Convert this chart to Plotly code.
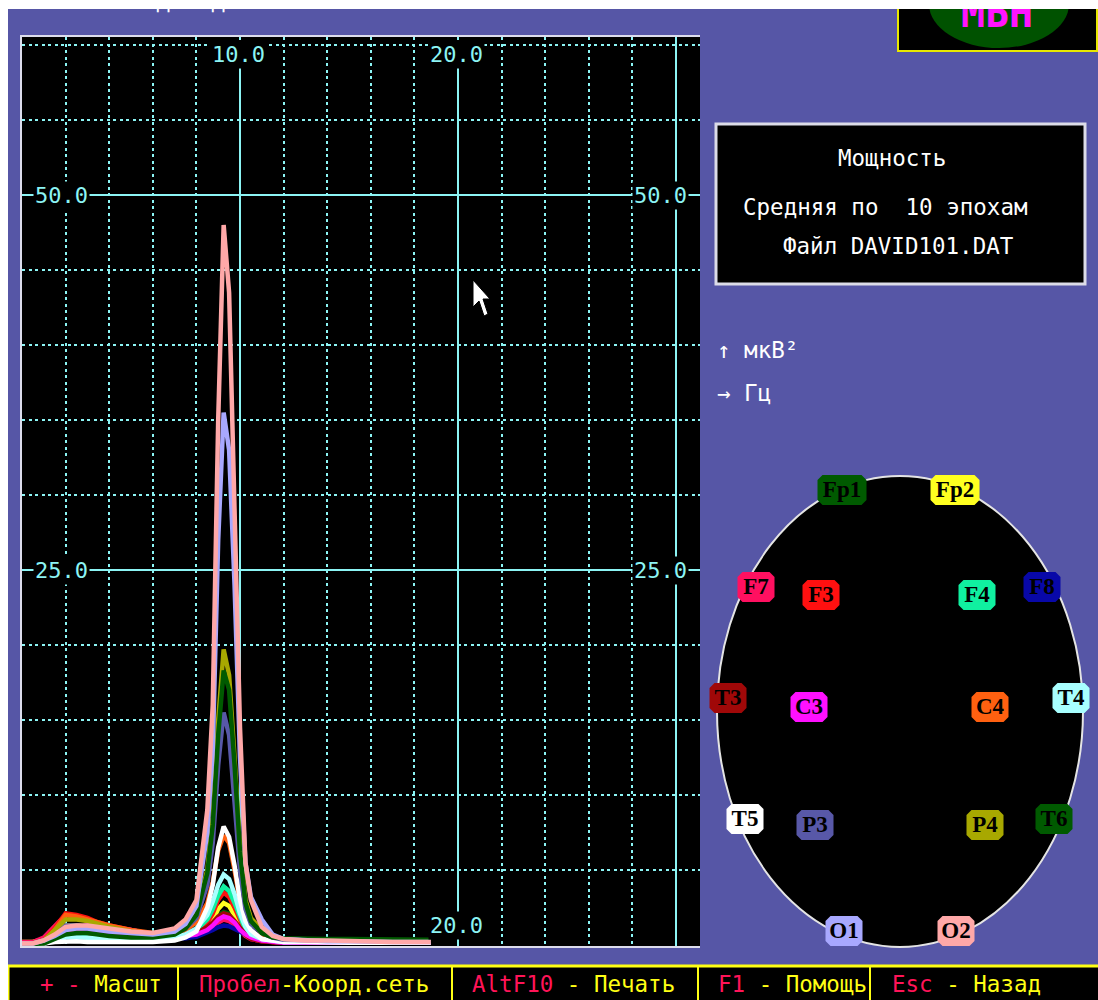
import plotly.graph_objects as go

# ---------------------------------------------------------------
# Mean power spectra (µV²) per EEG lead, averaged over 10 epochs
# ---------------------------------------------------------------
freq_hz = [0, 0.5, 1, 1.5, 2, 2.5, 3, 3.5, 4,
           5, 6, 7, 7.5,
           8, 8.5, 8.75, 9, 9.25, 9.5, 9.75, 10, 10.25, 10.5,
           11, 11.5, 12, 13, 14, 15, 16, 17, 18, 18.75]

power_fp1 = [0.1, 0.1, 0.3, 0.6, 0.9, 0.9, 0.8, 0.7, 0.65,
             0.6, 0.55, 0.6, 0.7,
             0.9, 1.3, 1.7, 2.0, 2.2, 2.1, 1.8, 1.3, 0.9, 0.6,
             0.4, 0.3, 0.25, 0.2, 0.2, 0.2, 0.2, 0.2, 0.2, 0.2]
power_fp2 = [0.2, 0.2, 0.4, 0.8, 1.3, 1.3, 1.2, 1.1, 1.0,
             0.8, 0.6, 0.6, 0.6,
             0.8, 1.2, 1.7, 2.4, 2.8, 2.6, 2.0, 1.3, 0.8, 0.5,
             0.3, 0.2, 0.15, 0.15, 0.15, 0.15, 0.15, 0.15, 0.15, 0.15]
power_f7 = [0.2, 0.2, 0.5, 1.3, 2.0, 1.9, 1.6, 1.4, 1.2,
            0.9, 0.6, 0.5, 0.5,
            0.6, 0.9, 1.2, 1.5, 1.7, 1.6, 1.3, 0.9, 0.6, 0.4,
            0.25, 0.2, 0.15, 0.15, 0.15, 0.15, 0.15, 0.15, 0.15, 0.15]
power_f3 = [0.1, 0.1, 0.3, 1.1, 2.1, 2.0, 1.8, 1.5, 1.3,
            1.0, 0.7, 0.6, 0.7,
            0.9, 1.5, 2.1, 3.0, 3.5, 3.2, 2.5, 1.6, 0.9, 0.5,
            0.3, 0.2, 0.2, 0.15, 0.15, 0.15, 0.15, 0.15, 0.15, 0.15]
power_f4 = [0.1, 0.1, 0.2, 0.5, 0.8, 0.8, 0.7, 0.6, 0.55,
            0.5, 0.45, 0.5, 0.7,
            1.0, 1.7, 2.4, 3.3, 3.9, 3.6, 2.8, 1.8, 1.0, 0.6,
            0.35, 0.25, 0.2, 0.2, 0.2, 0.2, 0.2, 0.2, 0.2, 0.2]
power_f8 = [0.1, 0.1, 0.3, 0.8, 1.1, 1.1, 1.0, 0.9, 0.8,
            0.6, 0.5, 0.45, 0.45,
            0.55, 0.8, 1.0, 1.2, 1.3, 1.25, 1.1, 0.9, 0.7, 0.5,
            0.3, 0.2, 0.15, 0.15, 0.15, 0.15, 0.15, 0.15, 0.15, 0.15]
power_t3 = [0.1, 0.1, 0.2, 0.5, 0.9, 0.9, 0.8, 0.7, 0.6,
            0.5, 0.45, 0.5, 0.6,
            0.8, 1.2, 1.5, 1.9, 2.1, 2.0, 1.6, 1.1, 0.7, 0.4,
            0.25, 0.2, 0.15, 0.15, 0.15, 0.15, 0.15, 0.15, 0.15, 0.15]
power_c3 = [0.1, 0.1, 0.2, 0.6, 1.1, 1.2, 1.3, 1.3, 1.2,
            1.0, 0.7, 0.6, 0.6,
            0.7, 1.0, 1.3, 1.7, 1.9, 1.8, 1.5, 1.0, 0.7, 0.5,
            0.3, 0.2, 0.15, 0.15, 0.15, 0.15, 0.15, 0.15, 0.15, 0.15]
power_c4 = [0.1, 0.1, 0.3, 1.0, 2.0, 1.9, 1.7, 1.5, 1.3,
            1.0, 0.8, 0.8, 1.0,
            1.5, 2.8, 4.2, 6.3, 7.3, 6.8, 5.0, 2.9, 1.5, 0.9,
            0.5, 0.35, 0.3, 0.25, 0.25, 0.2, 0.2, 0.2, 0.2, 0.2]
power_t4 = [0.05, 0.05, 0.1, 0.3, 0.5, 0.5, 0.5, 0.5, 0.45,
            0.4, 0.4, 0.5, 0.7,
            1.1, 2.0, 2.9, 4.0, 4.7, 4.4, 3.4, 2.1, 1.2, 0.7,
            0.4, 0.3, 0.2, 0.2, 0.2, 0.2, 0.2, 0.2, 0.2, 0.2]
power_t5 = [0.05, 0.05, 0.1, 0.2, 0.25, 0.25, 0.2, 0.2, 0.2,
            0.2, 0.2, 0.3, 0.5,
            0.9, 2.5, 4.0, 6.5, 7.9, 7.2, 5.3, 3.0, 1.6, 1.0,
            0.4, 0.3, 0.2, 0.2, 0.15, 0.15, 0.15, 0.15, 0.15, 0.15]
power_p3 = [0.1, 0.1, 0.2, 0.7, 1.3, 1.3, 1.2, 1.1, 1.0,
            0.8, 0.6, 0.8, 1.1,
            1.8, 4.0, 6.8, 12.0, 15.5, 14.0, 9.5, 5.0, 2.4, 1.4,
            0.8, 0.5, 0.35, 0.3, 0.3, 0.3, 0.3, 0.3, 0.3, 0.3]
power_p4 = [0.1, 0.1, 0.3, 1.0, 1.7, 1.7, 1.6, 1.4, 1.2,
            0.9, 0.7, 0.9, 1.3,
            2.2, 5.0, 8.5, 15.0, 19.7, 18.0, 12.5, 6.5, 3.0, 1.8,
            1.0, 0.6, 0.4, 0.35, 0.3, 0.3, 0.3, 0.3, 0.3, 0.3]
power_t6 = [0.05, 0.05, 0.1, 0.4, 0.7, 0.8, 0.8, 0.7, 0.6,
            0.5, 0.5, 0.7, 1.1,
            2.0, 4.8, 8.0, 14.0, 18.3, 17.0, 12.0, 6.2, 2.8, 1.6,
            0.8, 0.5, 0.45, 0.4, 0.4, 0.4, 0.4, 0.35, 0.35, 0.35]
power_o1 = [0.1, 0.1, 0.3, 0.6, 1.0, 1.1, 1.1, 1.0, 0.9,
            0.8, 0.7, 0.9, 1.4,
            2.6, 7.5, 13.0, 27.0, 35.5, 33.0, 24.0, 12.5, 5.5, 3.2,
            1.7, 0.7, 0.4, 0.3, 0.25, 0.25, 0.2, 0.2, 0.2, 0.2]
power_o2 = [0.1, 0.1, 0.3, 0.7, 1.2, 1.3, 1.3, 1.2, 1.1,
            0.9, 0.8, 1.1, 1.7,
            3.0, 9.0, 16.0, 35.0, 48.0, 43.5, 30.0, 14.5, 5.5, 3.0,
            1.2, 0.6, 0.4, 0.3, 0.3, 0.25, 0.25, 0.2, 0.2, 0.2]

lead_names = ["Fp1", "Fp2", "F7", "F3", "F4", "F8", "T3", "C3",
              "C4", "T4", "T5", "P3", "P4", "T6", "O1", "O2"]
lead_power = [power_fp1, power_fp2, power_f7, power_f3, power_f4, power_f8,
              power_t3, power_c3, power_c4, power_t4, power_t5, power_p3,
              power_p4, power_t6, power_o1, power_o2]

# x tick labels (Hz) and y tick labels (µV²) written on the grid
x_label_values = [10.0, 20.0]
y_label_values = [50.0, 25.0]

# ---------------------------------------------------------------
# Styling / layout
# ---------------------------------------------------------------
W, H = 1098, 1000
PURPLE = "#5656A6"
CYAN = "#8CF4F4"
YELLOW = "#FFFF14"
RED = "#FF1458"
MONO = "DejaVu Sans Mono"

lead_colors = {
    "Fp1": "#005A00", "Fp2": "#FFFF20", "F7": "#FF1060", "F3": "#FF1010",
    "F4": "#10F0A0", "F8": "#0808A8", "T3": "#A00808", "C3": "#FF10FF",
    "C4": "#FF6010", "T4": "#A8FFFF", "T5": "#FFFFFF", "P3": "#5858A8",
    "P4": "#A8A800", "T6": "#005A00", "O1": "#A8A8FF", "O2": "#FFA8A8",
}

# head-map montage, screen pixel positions
montage_xy = {
    "Fp1": (842, 490), "Fp2": (955, 490),
    "F7": (756, 587), "F3": (821, 595), "F4": (977, 595), "F8": (1042, 587),
    "T3": (728, 698), "C3": (809, 707), "C4": (990, 707), "T4": (1071, 698),
    "T5": (745, 819), "P3": (815, 825), "P4": (985, 825), "T6": (1054, 819),
    "O1": (844, 931), "O2": (956, 931),
}

# spectrum panel geometry (pixels)
PX_LEFT, PX_RIGHT, PX_TOP, PX_BOTTOM = 22, 700, 37, 946
PX_PER_HZ, PX_PER_UNIT, PX_ZERO = 21.8, 15.0, 945
x_max = (PX_RIGHT - PX_LEFT) / PX_PER_HZ
y_min = (PX_ZERO - PX_BOTTOM) / PX_PER_UNIT
y_max = (PX_ZERO - PX_TOP) / PX_PER_UNIT

fig = go.Figure()

for name, pw in zip(lead_names, lead_power):
    fig.add_trace(go.Scatter(
        x=freq_hz, y=pw, mode="lines", name=name,
        line=dict(color=lead_colors[name], width=4.5),
        hoverinfo="skip", xaxis="x", yaxis="y"))

# electrode names on the head map (pixel-space overlay axes)
fig.add_trace(go.Scatter(
    x=[montage_xy[n][0] for n in lead_names],
    y=[montage_xy[n][1] + 1 for n in lead_names],
    mode="text", text=lead_names, textposition="middle center",
    textfont=dict(family="Liberation Serif", size=23, color="#000000",
                  weight="bold"),
    hoverinfo="skip", xaxis="x2", yaxis="y2"))

# logo lettering and the clipped title glyphs (partly hidden by the top strip)
fig.add_trace(go.Scatter(
    x=[997], y=[17], mode="text", text=["МБН"],
    textposition="middle center",
    textfont=dict(family=MONO, size=40, color="#FF14FF", weight="bold"),
    hoverinfo="skip", xaxis="x2", yaxis="y2"))
fig.add_trace(go.Scatter(
    x=[163, 218], y=[3, 3], mode="text", text=["Д", "Д"],
    textposition="middle center",
    textfont=dict(family=MONO, size=22, color="#FFFFFF"),
    hoverinfo="skip", xaxis="x2", yaxis="y2"))

shapes = []

# black spectrum field
shapes.append(dict(type="rect", xref="x domain", yref="y domain",
                   x0=0, x1=1, y0=0, y1=1, fillcolor="#000000",
                   line=dict(width=0), layer="below"))
# solid reference lines
for xv in (10, 20):
    shapes.append(dict(type="line", xref="x", yref="y", x0=xv, x1=xv,
                       y0=y_min, y1=58.5, line=dict(color=CYAN, width=2),
                       layer="below"))
shapes.append(dict(type="line", xref="x", yref="y", x0=30, x1=30,
                   y0=y_min, y1=y_max, line=dict(color=CYAN, width=2),
                   layer="below"))
for yv in (25, 50):
    shapes.append(dict(type="line", xref="x", yref="y", x0=0, x1=x_max,
                       y0=yv, y1=yv, line=dict(color=CYAN, width=2),
                       layer="below"))

# info box
shapes.append(dict(type="rect", xref="x2", yref="y2", x0=716, x1=1085,
                   y0=124, y1=284, fillcolor="#000000",
                   line=dict(color="#DCDCE8", width=3), layer="below"))
# logo box
shapes.append(dict(type="rect", xref="x2", yref="y2", x0=898, x1=1097,
                   y0=-5, y1=51, fillcolor="#000000",
                   line=dict(color="#E8E800", width=2), layer="below"))
shapes.append(dict(type="circle", xref="x2", yref="y2", x0=929, x1=1069,
                   y0=-40, y1=48, fillcolor="#005200",
                   line=dict(width=0), layer="below"))
# head outline
shapes.append(dict(type="circle", xref="x2", yref="y2", x0=717, x1=1083,
                   y0=476, y1=947, fillcolor="#000000",
                   line=dict(color="#E4E4E4", width=2), layer="below"))


def chamfer_box(cx, cy, hw, hh=15, c=5):
    pts = [(cx - hw + c, cy - hh), (cx + hw - c, cy - hh), (cx + hw, cy - hh + c),
           (cx + hw, cy + hh - c), (cx + hw - c, cy + hh), (cx - hw + c, cy + hh),
           (cx - hw, cy + hh - c), (cx - hw, cy - hh + c)]
    return "M" + " L".join(f"{x},{y}" for x, y in pts) + " Z"


for n in lead_names:
    cx, cy = montage_xy[n]
    hw = 24.5 if len(n) == 3 else 18.5
    shapes.append(dict(type="path", xref="x2", yref="y2",
                       path=chamfer_box(cx, cy, hw),
                       fillcolor=lead_colors[n], line=dict(width=0),
                       layer="below"))

# function-key bar
shapes.append(dict(type="rect", xref="x2", yref="y2", x0=8, x1=1102,
                   y0=966, y1=1004, fillcolor="#000000",
                   line=dict(color=YELLOW, width=3), layer="below"))
for sx in (178, 452, 698, 870):
    shapes.append(dict(type="line", xref="x2", yref="y2", x0=sx, x1=sx,
                       y0=966, y1=1000, line=dict(color=YELLOW, width=2),
                       layer="below"))

# mouse pointer
shapes.append(dict(type="path", xref="x2", yref="y2",
                   path="M473,280 L473,307 L479,301 L484,316 L488,314 "
                        "L483,299 L490,299 Z",
                   fillcolor="#FFFFFF", line=dict(color="#000000", width=1),
                   layer="above"))
# white screen margins
shapes.append(dict(type="rect", xref="x2", yref="y2", x0=-2, x1=1100,
                   y0=-2, y1=9, fillcolor="#FFFFFF", line=dict(width=0),
                   layer="above"))
shapes.append(dict(type="rect", xref="x2", yref="y2", x0=-2, x1=8,
                   y0=-2, y1=1002, fillcolor="#FFFFFF", line=dict(width=0),
                   layer="above"))

annotations = []


def grid_label(text, x, y):
    annotations.append(dict(
        text=text, x=x, y=y, xref="x", yref="y", showarrow=False,
        xanchor="center", yanchor="middle", bgcolor="#000000", borderpad=1,
        font=dict(family=MONO, size=22, color=CYAN)))


for xv in x_label_values:
    grid_label(f"{xv:.1f}", xv - 0.07, 59.4)
for yv in y_label_values:
    grid_label(f"{yv:.1f}", 1.79, yv)
    grid_label(f"{yv:.1f}", 29.27, yv)
grid_label(f"{x_label_values[1]:.1f}", 19.95, 1.33)


def screen_text(text, x, y, color="#FFFFFF", xanchor="left", size=22.5):
    annotations.append(dict(
        text=text, x=x, y=y, xref="x2", yref="y2", showarrow=False,
        xanchor=xanchor, yanchor="middle",
        font=dict(family=MONO, size=size, color=color)))


screen_text("Мощность", 892, 158, xanchor="center")
screen_text("Средняя\u00a0по\u00a0\u00a010\u00a0эпохам", 741, 207)
screen_text("Файл\u00a0DAVID101.DAT", 781, 246)
screen_text("↑\u00a0мкВ²", 715, 350)
screen_text("→\u00a0Гц", 715, 393)


def key_text(key, action, x):
    screen_text(f'<span style="color:{RED}">{key}</span>{action}', x, 984,
                color=YELLOW)


key_text("+\u00a0-\u00a0", "Масшт", 38)
key_text("Пробел", "-Коорд.сеть", 197)
key_text("AltF10", "\u00a0-\u00a0Печать", 470)
key_text("F1", "\u00a0-\u00a0Помощь", 716)
key_text("Esc", "\u00a0-\u00a0Назад", 890)

fig.update_layout(
    width=W, height=H, margin=dict(l=0, r=0, t=0, b=0),
    paper_bgcolor=PURPLE, plot_bgcolor="rgba(0,0,0,0)",
    showlegend=False, hovermode=False,
    shapes=shapes, annotations=annotations,
    xaxis=dict(domain=[PX_LEFT / W, PX_RIGHT / W], range=[0, x_max],
               tick0=0, dtick=2, showgrid=True, gridcolor=CYAN, gridwidth=2,
               griddash="3px,3.5px", zeroline=False, showticklabels=False,
               ticks="", showline=True, linecolor="#DCDCEC", linewidth=2,
               mirror=True, fixedrange=True),
    yaxis=dict(domain=[1 - PX_BOTTOM / H, 1 - PX_TOP / H],
               range=[y_min, y_max], tick0=0, dtick=5, showgrid=True,
               gridcolor=CYAN, gridwidth=2, griddash="3px,3.5px",
               zeroline=False, showticklabels=False, ticks="",
               showline=True, linecolor="#DCDCEC", linewidth=2,
               mirror=False, fixedrange=True),
    xaxis2=dict(domain=[0, 1], range=[0, W], visible=False, anchor="y2",
                fixedrange=True),
    yaxis2=dict(domain=[0, 1], range=[H, 0], visible=False, anchor="x2",
                fixedrange=True),
)

fig.write_html("out.html")
